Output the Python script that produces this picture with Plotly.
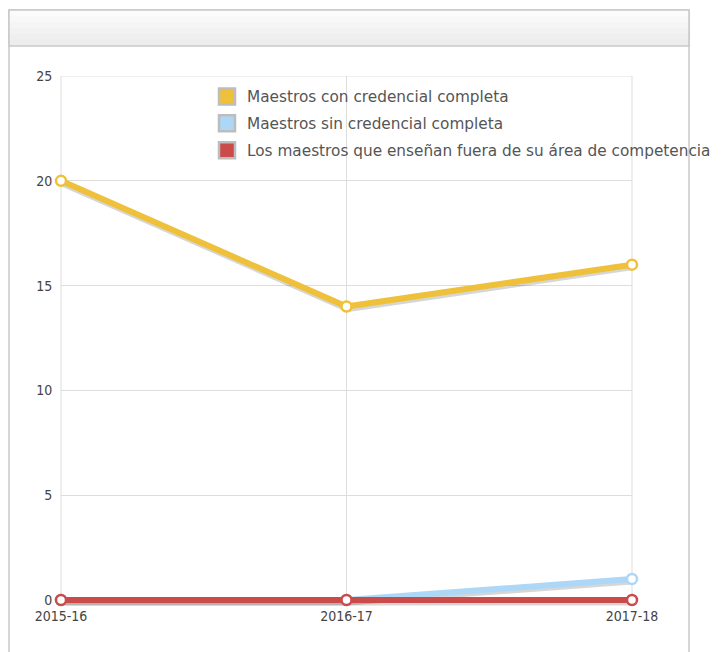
import plotly.graph_objects as go

years = ["2015-16", "2016-17", "2017-18"]
con_credencial = [20, 14, 16]
sin_credencial = [0, 0, 1]
fuera_area = [0, 0, 0]
series_names = [
    "Maestros con credencial completa",
    "Maestros sin credencial completa",
    "Los maestros que enseñan fuera de su área de competencia",
]
colors = ["#EFC03A", "#ADD7F6", "#CB4A4A"]
y_ticks = [0, 5, 10, 15, 20, 25]

# page has an 8px body margin; work in screen pixels and convert
OFF = 8
W, H = 728 - OFF, 652 - OFF
SL, SR, ST, S0 = 61, 632, 76, 600   # screen px of plot edges / zero line
EXT = 6                              # extra px below zero so the 0-lines are not clipped
SB = S0 + EXT
unit = (S0 - ST) / 25.0
ymin = -EXT / unit

def px(x):
    return (x - SL) / (SR - SL)

def py(y):
    return (SB - y) / (SB - ST)

fig = go.Figure()
# legend entries (base axes)
for i, (name, col) in enumerate(zip(series_names, colors)):
    fig.add_trace(go.Scatter(
        x=[None], y=[None], mode="markers", name=name, showlegend=True, legendgroup=str(i),
        marker=dict(symbol="square", size=16, color=col, line=dict(color="#BDBDBD", width=2.5)),
        xaxis="x", yaxis="y",
    ))
# soft shadows on offset overlay axes
sdx, sdy = 1.0, 2.5
for vals, col in zip([con_credencial, sin_credencial, fuera_area], colors):
    fig.add_trace(go.Scatter(
        x=years, y=vals, mode="lines", showlegend=False, hoverinfo="skip",
        line=dict(color="rgba(0,0,0,0.16)", width=6), xaxis="x2", yaxis="y2",
    ))
for vals, name, col in zip([con_credencial, sin_credencial, fuera_area], series_names, colors):
    fig.add_trace(go.Scatter(
        x=years, y=vals, mode="lines+markers", name=name, showlegend=False,
        line=dict(color=col, width=6),
        marker=dict(size=10, color="white", line=dict(color=col, width=2.5)),
        cliponaxis=False, xaxis="x3", yaxis="y3",
    ))

# panel frame and header band
fig.add_shape(type="rect", xref="paper", yref="paper", x0=px(9), x1=px(689), y0=py(720), y1=py(10),
              line=dict(color="#C9C9C9", width=1.5), fillcolor="white", layer="below")
band_cols = ["#FBFBFB", "#F8F8F8", "#F5F5F5", "#F2F2F2", "#EFEFEF", "#EDEDED"]
top, bot = 10, 46
step = (bot - top) / len(band_cols)
for k, c in enumerate(band_cols):
    fig.add_shape(type="rect", xref="paper", yref="paper", x0=px(9), x1=px(689),
                  y0=py(top + (k + 1) * step), y1=py(top + k * step),
                  line=dict(width=0), fillcolor=c, layer="below")
fig.add_shape(type="rect", xref="paper", yref="paper", x0=px(9), x1=px(689), y0=py(bot), y1=py(top),
              line=dict(color="#C9C9C9", width=1.5), fillcolor="rgba(0,0,0,0)", layer="below")
# plot-area borders
fig.add_shape(type="line", xref="paper", yref="y", x0=0, x1=1, y0=25, y1=25,
              line=dict(color="#DDDDDD", width=1), layer="below")
for xv in [0, 1]:
    fig.add_shape(type="line", xref="paper", yref="y", x0=xv, x1=xv, y0=0, y1=25,
                  line=dict(color="#DDDDDD", width=1), layer="below")

xr = [0, 2]
xr2 = [0 - sdx * 2 / (SR - SL), 2 - sdx * 2 / (SR - SL)]
yr = [ymin, 25]
yr2 = [ymin + sdy / unit, 25 + sdy / unit]

fig.update_layout(
    width=W, height=H,
    margin=dict(l=SL - OFF, r=W - (SR - OFF), t=ST - OFF, b=H - (SB - OFF), autoexpand=False),
    paper_bgcolor="white", plot_bgcolor="rgba(0,0,0,0)",
    font=dict(family="DejaVu Sans Condensed, DejaVu Sans", color="#444", size=14),
    showlegend=True,
    legend=dict(x=px(207), y=py(80), xanchor="left", yanchor="top",
                bgcolor="rgba(0,0,0,0)", font=dict(family="DejaVu Sans", size=15.3, color="#555"),
                traceorder="grouped", tracegroupgap=4, itemwidth=30),
    xaxis=dict(type="category", categoryarray=years, range=xr, showgrid=True, gridcolor="#DDDDDD",
               gridwidth=1, zeroline=False, showline=False, ticks="", tickfont=dict(size=14, color="#444")),
    yaxis=dict(range=yr, tickvals=y_ticks, showgrid=True, gridcolor="#DDDDDD", gridwidth=1,
               zeroline=False, showline=False, ticks="outside", ticklen=5,
               tickcolor="rgba(0,0,0,0)", tickfont=dict(size=14, color="#444")),
    xaxis2=dict(type="category", categoryarray=years, range=xr2, overlaying="x", visible=False),
    yaxis2=dict(range=yr2, overlaying="y", visible=False),
    xaxis3=dict(type="category", categoryarray=years, range=xr, overlaying="x", visible=False),
    yaxis3=dict(range=yr, overlaying="y", visible=False),
)
fig.write_html("out.html")
